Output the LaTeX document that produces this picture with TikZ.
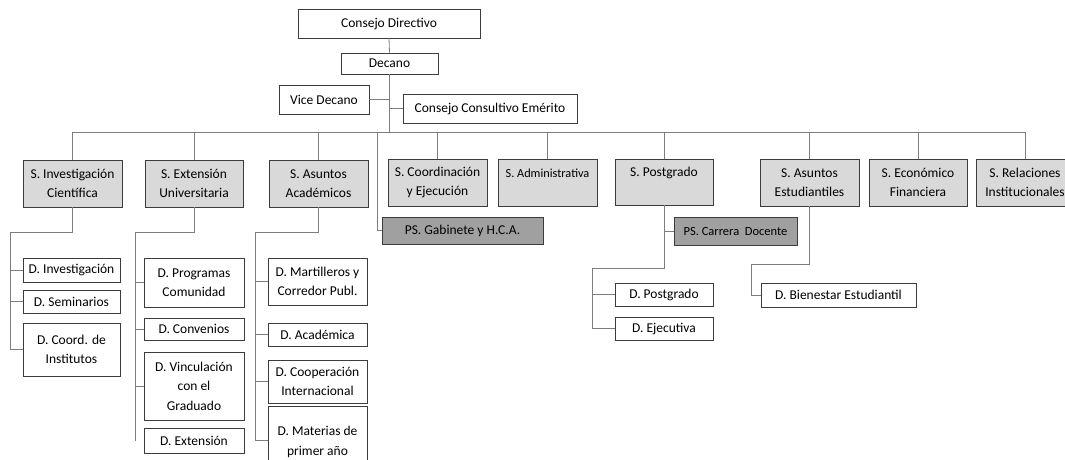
\documentclass[tikz,border=0pt]{standalone}
\usepackage{fontspec}
\setmainfont{Carlito}
\definecolor{linec}{RGB}{125,125,125}
\definecolor{boxc}{RGB}{60,60,60}
\definecolor{secf}{RGB}{217,217,217}
\definecolor{psf}{RGB}{160,160,160}
\begin{document}
\begin{tikzpicture}[x=1pt,y=-1pt,
  box/.style={draw=boxc, line width=0.8pt, fill=white, align=center, inner sep=0pt,
    font=\fontsize{13.5}{19.5}\selectfont},
  sz/.style 2 args={minimum width=#1pt, minimum height=#2pt},
  sec/.style={box, fill=secf},
  ps/.style={box, fill=psf},
  con/.style={draw=linec, line width=0.8pt}]
\useasboundingbox[fill=white] (0,0) rectangle (1065,459);

% top
\node[box, sz={182}{29}] (cd) at (389,23.5) {Consejo Directivo};
\node[box, sz={97}{21}] (dec) at (389.5,63.5) {Decano};
\node[box, sz={90}{29}] (vice) at (324,99.5) {Vice Decano};
\node[box, sz={174}{29}] (cce) at (490,108.5) {Consejo Consultivo Emérito};

% secretarias
\node[sec, sz={99}{47}] (sinv) at (72.5,183.5) {S. Investigación\\Científica};
\node[sec, sz={98}{47}] (sext) at (194,183.5) {S. Extensión\\Universitaria};
\node[sec, sz={99}{47}] (saa) at (318.5,183.5) {S. Asuntos\\Académicos};
\node[sec, sz={99}{47}] (scoord) at (437.5,182.5) {S. Coordinación\\y Ejecución};
\node[sec, sz={99}{47}, font=\fontsize{12.3}{19.5}\selectfont] (sadm) at (547.5,182.5) {S. Administrativa\\\mbox{}};
\node[sec, sz={98}{46}] (spost) at (664,182) {S. Postgrado\\\mbox{}};
\node[sec, sz={99}{47}] (sae) at (809.5,182.5) {S. Asuntos\\Estudiantiles};
\node[sec, sz={98}{47}] (secf) at (918,182.5) {S. Económico\\Financiera};
\node[sec, sz={98}{47}] (srel) at (1025,182.5) {S. Relaciones\\Institucionales};

% prosecretarias
\node[ps, sz={161}{27}] (gab) at (462.5,230.5) {PS. Gabinete y H.C.A.};
\node[ps, sz={123}{28}, font=\fontsize{12.5}{19.5}\selectfont] (pscd) at (735.5,231) {PS. Carrera\ \ Docente};

% direcciones
\node[box, sz={97}{24}] (dinv) at (71.5,270) {D. Investigación};
\node[box, sz={97}{23}] (dsem) at (71.5,301.5) {D. Seminarios};
\node[box, sz={97}{53}] (dcoord) at (71.5,349.5) {D. Coord. de\\Institutos};

\node[box, sz={100}{49}] (dprog) at (194,282.5) {D. Programas\\Comunidad};
\node[box, sz={100}{22}] (dconv) at (194,329) {D. Convenios};
\node[box, sz={100}{68}] (dvinc) at (194,386) {D. Vinculación\\con el\\Graduado};
\node[box, sz={100}{25}] (dext) at (194,440.5) {D. Extensión};

\node[box, sz={99}{47}] (dmart) at (317.5,281.5) {D. Martilleros y\\Corredor Publ.};
\node[box, sz={99}{23}] (dacad) at (317.5,334.5) {D. Académica};
\node[box, sz={99}{43}] (dcoop) at (317.5,381.5) {D. Cooperación\\Internacional};
\node[box, sz={99}{72}] (dmat) at (317.5,442) {D. Materias de\\primer año};

\node[box, sz={98}{23}] (dpost) at (664,294.5) {D. Postgrado};
\node[box, sz={98}{23}] (dejec) at (664,328.5) {D. Ejecutiva};
\node[box, sz={155}{24}] (dbien) at (838.5,295) {D. Bienestar Estudiantil};

% connectors top
\coordinate (bus) at (0,132);
\draw[con] (cd.south) -- (dec.north);
\draw[con] (dec.south) -- (dec.south |- bus);
\draw[con] (vice.east) -- (vice.east -| dec.south);
\draw[con] (cce.west) -- (cce.west -| dec.south);
\draw[con] (sinv.north |- bus) -- (srel.north |- bus);
\foreach \n in {sinv,sext,saa,scoord,sadm,spost,sae,secf,srel}
  \draw[con] (\n.north) -- (\n.north |- bus);
\coordinate (gabtop) at (377,132);
\draw[con] (gabtop) |- (gab.west);

% left group
\coordinate (jl) at (10,232);
\draw[con] (sinv.south) |- (jl) |- (dcoord.west);
\draw[con] (jl |- dinv.west) -- (dinv.west);
\draw[con] (jl |- dsem.west) -- (dsem.west);

\coordinate (jm) at (135,232);
\draw[con] (sext.south) |- (jm) -- (jm |- dext.west);
\draw[con] (jm |- dprog.west) -- (dprog.west);
\draw[con] (jm |- dconv.west) -- (dconv.west);
\draw[con] (jm |- dvinc.west) -- (dvinc.west);

\coordinate (jr) at (255,232);
\draw[con] (saa.south) |- (jr) -- (jr |- 0,440) -- (dmat.west |- 0,440);
\draw[con] (jr |- dmart.west) -- (dmart.west);
\draw[con] (jr |- dacad.west) -- (dacad.west);
\draw[con] (jr |- dcoop.west) -- (dcoop.west);

% postgrado
\coordinate (jp) at (592,268);
\draw[con] (spost.south) |- (jp) |- (dejec.west);
\draw[con] (jp |- dpost.west) -- (dpost.west);
\draw[con] (spost.south |- pscd.west) -- (pscd.west);

% estudiantiles
\coordinate (je) at (751,264);
\draw[con] (sae.south) |- (je) |- (dbien.west);
\end{tikzpicture}
\end{document}
